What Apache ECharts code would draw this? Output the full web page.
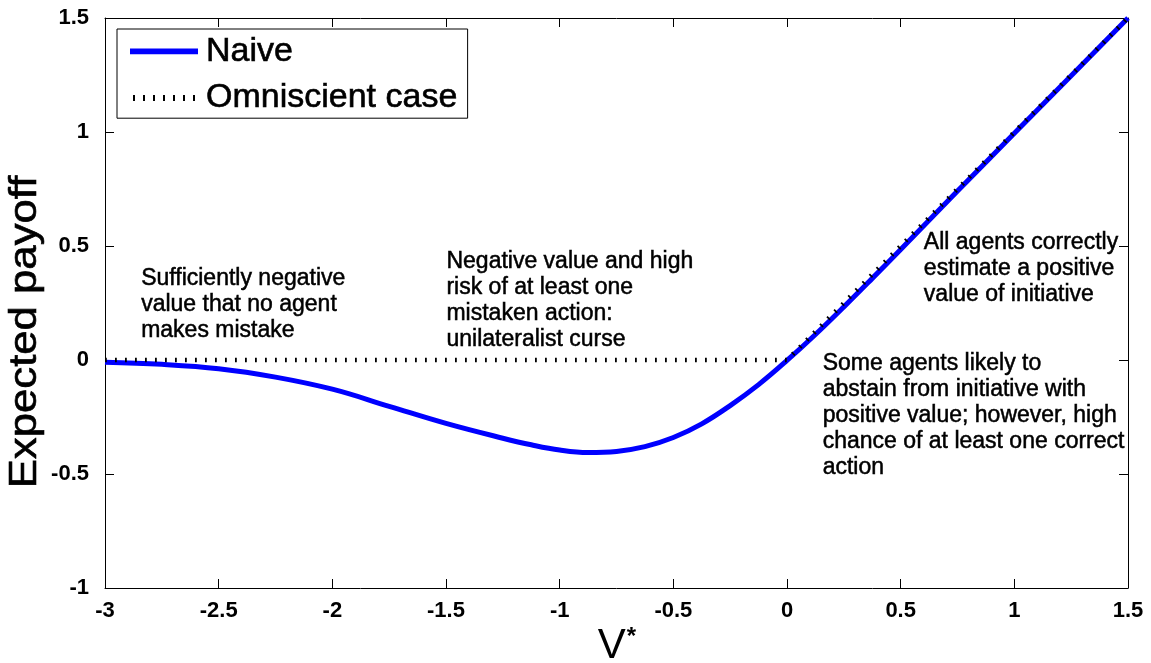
<!DOCTYPE html>
<html>
<head>
<meta charset="utf-8">
<title>Expected payoff vs V*</title>
<script src="https://cdn.jsdelivr.net/npm/echarts@6/dist/echarts.min.js"></script>
<style>
  html, body { margin: 0; padding: 0; background: #fff; }
  #chart { width: 1151px; height: 663px; }
</style>
</head>
<body>
<div id="chart"></div>
<script>
// Naive agents' expected payoff as a function of the true value V*
const naiveX = [-3, -2.75, -2.5, -2.25, -2, -1.75, -1.5, -1.25, -1.125, -1, -0.875, -0.75, -0.625,
                -0.5, -0.375, -0.25, -0.125, 0, 0.125, 0.25, 0.375, 0.5, 0.75, 1, 1.25, 1.5];
const naiveY = [-0.01, -0.019, -0.038, -0.075, -0.128, -0.203, -0.278, -0.343, -0.372, -0.395, -0.406, -0.401, -0.38,
                -0.34, -0.28, -0.2, -0.108, -0.002, 0.112, 0.233, 0.358, 0.485, 0.741, 0.994, 1.247, 1.5];

// Omniscient case: act only when the value is positive
const omniX = [-3, 0, 1.5];
const omniY = [0, 0, 1.5];

const xTicks = { min: -3, max: 1.5, step: 0.5 };
const yTicks = { min: -1, max: 1.5, step: 0.5 };

const seriesNames = ['Naive', 'Omniscient case'];
const xTitle = 'V';
const yTitle = 'Expected payoff';

const notes = [
  { text: 'Sufficiently negative\nvalue that no agent\nmakes mistake', x: -2.841, y: 0.415 },
  { text: 'Negative value and high\nrisk of at least one\nmistaken action:\nunilateralist curse', x: -1.498, y: 0.49 },
  { text: 'All agents correctly\nestimate a positive\nvalue of initiative', x: 0.602, y: 0.573 },
  { text: 'Some agents likely to\nabstain from initiative with\npositive value; however, high\nchance of at least one correct\naction', x: 0.157, y: 0.043 }
];

const zip = (xs, ys) => xs.map((x, i) => [x, ys[i]]);

const FONT = 'Liberation Sans, Arial, Helvetica, sans-serif';

const chart = echarts.init(document.getElementById('chart'), null, { renderer: 'canvas' });

const axisLineStyle = { show: true, onZero: false, lineStyle: { color: '#000', width: 1 } };
const tickStyle = { show: true, inside: true, length: 9, lineStyle: { color: '#000', width: 1 } };
const tickLabel = { color: '#000', fontFamily: FONT, fontWeight: 'bold', fontSize: 22 };

// Legend swatches: a thick solid bar and a row of short dots
const solidIcon = 'path://M0,0H70V6H0Z';
const dotIcon = 'path://' + [0, 10, 20, 30, 40, 50, 60].map(d => 'M' + d + ',0h2v6h-2z').join(' ');

const option = {
  backgroundColor: '#fff',
  animation: false,
  grid: { left: 105, right: 23, top: 18, bottom: 75, show: false },
  legend: {
    orient: 'vertical',
    left: 117,
    top: 29,
    data: [
      { name: seriesNames[0], icon: solidIcon },
      { name: seriesNames[1], icon: dotIcon }
    ],
    itemWidth: 68,
    itemHeight: 6,
    itemGap: 12,
    padding: [5, 10, 3, 13],
    borderColor: '#000',
    borderWidth: 1,
    backgroundColor: '#fff',
    textStyle: {
      color: '#000', fontFamily: FONT, fontSize: 34, lineHeight: 34, padding: [0, 0, 0, 3],
      textBorderColor: '#000', textBorderWidth: 0.6
    }
  },
  xAxis: [
    {
      type: 'value', position: 'bottom',
      min: xTicks.min, max: xTicks.max, interval: xTicks.step,
      axisLine: axisLineStyle, axisTick: tickStyle, splitLine: { show: false },
      axisLabel: Object.assign({ margin: 12 }, tickLabel)
    },
    {
      type: 'value', position: 'top',
      min: xTicks.min, max: xTicks.max, interval: xTicks.step,
      axisLine: axisLineStyle, axisTick: tickStyle, splitLine: { show: false },
      axisLabel: { show: false }
    }
  ],
  yAxis: [
    {
      type: 'value', position: 'left',
      min: yTicks.min, max: yTicks.max, interval: yTicks.step,
      axisLine: axisLineStyle, axisTick: tickStyle, splitLine: { show: false },
      axisLabel: Object.assign({ margin: 16 }, tickLabel)
    },
    {
      type: 'value', position: 'right',
      min: yTicks.min, max: yTicks.max, interval: yTicks.step,
      axisLine: axisLineStyle, axisTick: tickStyle, splitLine: { show: false },
      axisLabel: { show: false }
    }
  ],
  series: [
    {
      name: seriesNames[0],
      type: 'line',
      data: zip(naiveX, naiveY),
      smooth: 0.4,
      showSymbol: false,
      symbol: 'none',
      lineStyle: { color: '#0000ff', width: 5 },
      itemStyle: { color: '#0000ff' },
      z: 2
    },
    {
      name: seriesNames[1],
      type: 'line',
      data: zip(omniX, omniY),
      showSymbol: false,
      symbol: 'none',
      lineStyle: { color: '#000', width: 4.5, type: [1.8, 8.2] },
      itemStyle: { color: '#000' },
      z: 3
    }
  ]
};

chart.setOption(option);

// Text annotations and axis titles
function place() {
  const elements = notes.map(n => {
    const p = chart.convertToPixel({ xAxisIndex: 0, yAxisIndex: 0 }, [n.x, n.y]);
    return {
      type: 'text',
      x: p[0], y: p[1],
      style: {
        text: n.text,
        fill: '#000',
        stroke: '#000',
        lineWidth: 0.5,
        font: '23px ' + FONT,
        lineHeight: 26,
        textAlign: 'left',
        textVerticalAlign: 'top'
      },
      z: 10
    };
  });
  elements.push({
    type: 'text',
    x: 26, y: 332,
    rotation: Math.PI / 2,
    scaleX: 1.15,
    style: {
      text: yTitle,
      fill: '#000',
      stroke: '#000',
      lineWidth: 0.6,
      font: '38px ' + FONT,
      textAlign: 'center',
      textVerticalAlign: 'middle'
    },
    z: 10
  });
  elements.push({
    type: 'text',
    x: 617, y: 646,
    style: {
      text: '{v|' + xTitle + '}{s|*}',
      textAlign: 'center',
      textVerticalAlign: 'middle',
      rich: {
        v: { fontFamily: FONT, fontSize: 42, color: '#000', verticalAlign: 'bottom' },
        s: { fontFamily: FONT, fontSize: 24, fontWeight: 'bold', color: '#000', verticalAlign: 'top', padding: [0, 0, 18, 1] }
      }
    },
    z: 10
  });
  chart.setOption({ graphic: { elements: elements } });
}
place();
</script>
</body>
</html>
